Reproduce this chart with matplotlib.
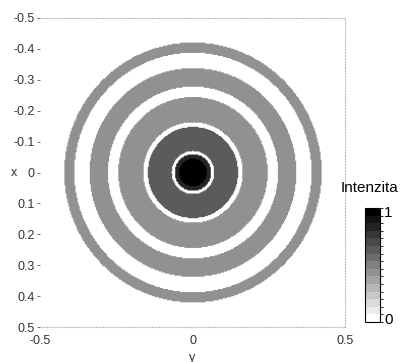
import matplotlib
matplotlib.use("Agg")
import matplotlib.pyplot as plt
from matplotlib.colors import ListedColormap, BoundaryNorm
import matplotlib.colorbar as mcolorbar
import numpy as np

plt.rcParams.update({"font.family": ["Liberation Sans", "DejaVu Sans"], "font.size": 9})

# radial zones of the intensity pattern (inner radius, outer radius, intensity)
ring_inner = [0.0, 0.045, 0.070, 0.163, 0.279, 0.389]
ring_outer = [0.045, 0.060, 0.148, 0.245, 0.339, 0.422]
ring_level = [1.0, 0.85, 0.62, 0.40, 0.40, 0.40]

n_levels = 15
y_ticks = [-0.5, -0.4, -0.3, -0.2, -0.1, 0, 0.1, 0.2, 0.3, 0.4, 0.5]
x_ticks = [-0.5, 0, 0.5]

grid = np.linspace(-0.5, 0.5, 301)
X, Y = np.meshgrid(grid, grid)
R = np.hypot(X, Y)
field = np.zeros_like(R)
for r0, r1, lev in zip(ring_inner, ring_outer, ring_level):
    field[(R >= r0) & (R < r1)] = lev

cmap = ListedColormap([str(1 - i / (n_levels - 1)) for i in range(n_levels)])
norm = BoundaryNorm(np.linspace(0, 1, n_levels + 1), n_levels)

fig = plt.figure(figsize=(4.03, 3.62), dpi=100)
ax = fig.add_axes([40 / 403, 35 / 362, 305 / 403, 309 / 362])
ax.imshow(field, cmap=cmap, norm=norm, extent=[-0.5, 0.5, 0.5, -0.5],
          interpolation="bilinear", aspect="auto")
ax.set_xlim(-0.5, 0.5)
ax.set_ylim(0.5, -0.5)
ax.set_xticks(x_ticks)
ax.set_xticklabels(["-0.5", "0", "0.5"])
ax.set_yticks(y_ticks)
ax.set_yticklabels(["-0.5", "-0.4", "-0.3", "-0.2", "-0.1", "0",
                    "0.1", "0.2", "0.3", "0.4", "0.5"])
ax.tick_params(colors="#333333", length=2, width=0.5, pad=2)
ax.tick_params(axis="x", length=0, pad=6)
ax.set_xlabel("y", color="#333333", labelpad=3)
ax.set_ylabel("x", color="#333333", rotation=0, va="center")
ax.yaxis.set_label_coords(-26 / 305, 0.5)
ax.spines["left"].set_visible(False)
for side in ("top", "bottom", "right"):
    ax.spines[side].set_linestyle(":")
    ax.spines[side].set_color("#bbbbbb")
    ax.spines[side].set_linewidth(0.8)

cax = fig.add_axes([365 / 403, 40 / 362, 15 / 403, 114 / 362])
cb = mcolorbar.ColorbarBase(cax, cmap=cmap, norm=norm, orientation="vertical")
cb.set_ticks([0.03, 0.97])
cb.set_ticklabels(["0", "1"])
cb.ax.tick_params(length=0, labelsize=11, pad=3)
cb.outline.set_linewidth(0.8)
fig.text(370 / 403, 1 - 188 / 362, "Intenzita", fontsize=11, ha="center", va="center")

fig.savefig("out.png", dpi=100)
